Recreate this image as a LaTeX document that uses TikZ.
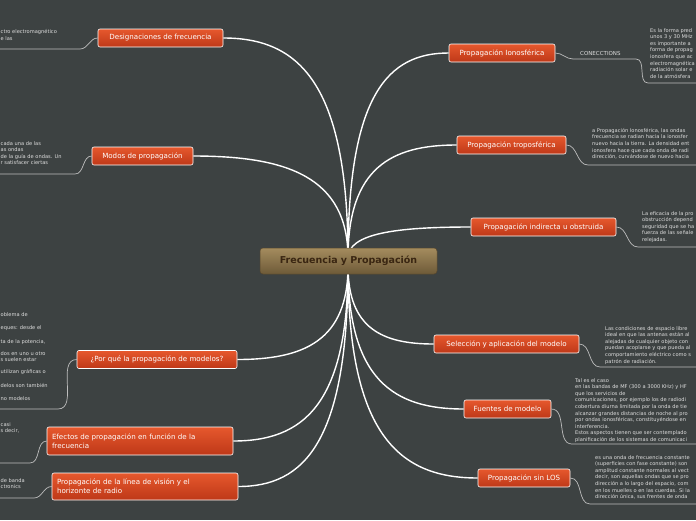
\documentclass[tikz,border=0pt]{standalone}
\usepackage{fontspec}
\setmainfont{DejaVu Sans}
\usetikzlibrary{calc}
\definecolor{bg}{RGB}{61,66,66}
\definecolor{topA}{RGB}{230,88,45}
\definecolor{topB}{RGB}{190,56,24}
\definecolor{cenA}{RGB}{164,140,94}
\definecolor{cenB}{RGB}{110,90,56}
\definecolor{cenT}{RGB}{58,38,18}
\definecolor{notec}{RGB}{222,222,222}
\definecolor{subc}{RGB}{190,190,190}
\newcommand\mcurve[2]{\draw[mainline] (#1) .. controls ($(#1)!0.8!(#1|-#2)$) and ($(#2)!0.6!(#1|-#2)$) .. (#2);}
\begin{document}
\begin{tikzpicture}[x=1pt,y=-1pt,
  topic/.style={draw=white, line width=0.6pt, rounded corners=2pt, top color=topA, bottom color=topB,
    text=white, font=\fontsize{7.1}{8.6}\selectfont, inner xsep=4pt, inner ysep=2pt, minimum height=18pt},
  center/.style={draw=cenB!80!black, line width=0.5pt, rounded corners=3pt, top color=cenA, bottom color=cenB,
    text=cenT, font=\bfseries\fontsize{9.5}{11}\selectfont, minimum width=177pt, minimum height=26pt},
  note/.style={text=notec, font=\fontsize{5.1}{6.6}\selectfont, inner sep=0pt, align=left},
  lnote/.style={text=notec, font=\fontsize{5.1}{6.6}\selectfont, inner sep=0pt, anchor=base west},
  mainline/.style={white, line width=1.4pt},
  subline/.style={subc, line width=0.7pt}]
\useasboundingbox (0,0) rectangle (696,520);
\fill[bg] (0,0) rectangle (696,520);
\clip (0,0) rectangle (696,520);

\coordinate (cu) at (348,258);
\coordinate (cd) at (348,266);

% left topics
\node[topic, minimum width=125pt] (des) at (160.5,38) {Designaciones de frecuencia};
\node[topic, minimum width=101pt] (mod) at (142.5,156) {Modos de propagación};
\node[topic, minimum width=160pt] (por) at (157,359.5) {¿Por qué la propagación de modelos?};
\node[topic, minimum width=186pt, minimum height=28pt, text width=176pt, align=left] (efe) at (140,441) {Efectos de propagación en función de la\\frecuencia};
\node[topic, minimum width=186pt, minimum height=27pt, text width=176pt, align=left] (los) at (145,486.5) {Propagación de la línea de visión y el\\horizonte de radio};

% right topics
\node[topic, minimum width=106pt] (ion) at (502,53) {Propagación Ionosférica};
\node[topic, minimum width=109pt] (tro) at (511.5,145) {Propagación troposférica};
\node[topic, minimum width=145pt] (ind) at (543.5,227) {Propagación indirecta u obstruida};
\node[topic, minimum width=145pt] (sel) at (506.5,344) {Selección y aplicación del modelo};
\node[topic, minimum width=87pt] (fue) at (507.5,409) {Fuentes de modelo};
\node[topic, minimum width=92pt] (sin) at (524,478) {Propagación sin LOS};

% main curves
\mcurve{cu}{des.east}
\mcurve{cu}{mod.east}
\mcurve{cd}{por.east}
\mcurve{cd}{efe.east}
\mcurve{cd}{los.east}
\mcurve{cu}{ion.west}
\mcurve{cu}{tro.west}
\mcurve{cu}{ind.west}
\mcurve{cd}{sel.west}
\mcurve{cd}{fue.west}
\mcurve{cd}{sin.west}

\node[center] (cen) at (348.5,261) {Frecuencia y Propagación};

% left sub lines
\coordinate (desr) at (80,49);
\draw[subline] (des.west) to[out=180,in=0] (desr) -- (0,49);
\coordinate (modr) at (75,174);
\draw[subline] (mod.west) to[out=180,in=0] (modr) -- (0,174);
\coordinate (porr) at (58,409);
\draw[subline] (por.west) to[out=180,in=0] (porr) -- (0,409);
\coordinate (efer) at (30,463);
\draw[subline] (efe.west) to[out=180,in=0] (efer) -- (0,463);
\coordinate (losr) at (34,498);
\draw[subline] (los.west) to[out=180,in=0] (losr) -- (0,498);

% right sub lines
\coordinate (ionr) at (573,59);
\coordinate (ionr2) at (636,59);
\coordinate (ionr3) at (648,83);
\draw[subline] (ion.east) to[out=0,in=180] (ionr) -- (ionr2) to[out=0,in=180] (ionr3) -- (696,83);
\node[text=notec, font=\fontsize{5.5}{6}\selectfont, inner sep=0pt, anchor=base west] (con) at (580,55.5) {CONECCTIONS};
\coordinate (tror) at (588,165);
\draw[subline] (tro.east) to[out=0,in=180] (tror) -- (696,165);
\coordinate (indr) at (638,247);
\draw[subline] (ind.east) to[out=0,in=180] (indr) -- (696,247);
\coordinate (selr) at (600,367);
\draw[subline] (sel.east) to[out=0,in=180] (selr) -- (696,367);
\coordinate (fuer) at (572,444);
\draw[subline] (fue.east) to[out=0,in=180] (fuer) -- (696,444);
\coordinate (sinr) at (590,504);
\draw[subline] (sin.east) to[out=0,in=180] (sinr) -- (696,504);

% right notes (as far as the picture shows them)
\node[note, anchor=north west] (n1) at (650,28) {Es la forma pred\\unos 3 y 30 MHz\\es importante a\\forma de propag\\ionosfera que ac\\electromagnética\\radiación solar e\\de la atmósfera};
\node[note, anchor=north west] (n2) at (592,128) {a Propagación Ionosférica, las ondas\\frecuencia se radian hacia la ionosfer\\nuevo hacia la tierra. La densidad ent\\ionosfera hace que cada onda de radi\\dirección, curvándose de nuevo hacia};
\node[note, anchor=north west] (n3) at (642,211) {La eficacia de la pro\\obstrucción depend\\seguridad que se ha\\fuerza de las señale\\relejadas.};
\node[note, anchor=north west] (n4) at (605,326) {Las condiciones de espacio libre\\ideal en que las antenas están al\\alejadas de cualquier objeto con\\puedan acoplarse y que pueda al\\comportamiento eléctrico como s\\patrón de radiación.};
\node[note, anchor=north west] (n5) at (575,378) {Tal es el caso\\en las bandas de MF (300 a 3000 KHz) y HF\\que los servicios de\\comunicaciones, por ejemplo los de radiodi\\cobertura diurna limitada por la onda de tie\\alcanzar grandes distancias de noche al pro\\por ondas ionosféricas, constituyéndose en\\interferencia.\\Estos aspectos tienen que ser contemplado\\planificación de los sistemas de comunicaci};
\node[note, anchor=north west] (n6) at (595,455) {es una onda de frecuencia constante\\(superficies con fase constante) son\\amplitud constante normales al vect\\decir, son aquellas ondas que se pro\\dirección a lo largo del espacio, com\\en los muelles o en las cuerdas. Si la\\dirección única, sus frentes de onda};

% left notes (as far as the picture shows them)
\node[lnote] (l1) at (0.5,33) {ctro electromagnético};
\node[lnote] (l2) at (0.5,40) {e las};
\node[lnote] (l3) at (0.5,145) {cada una de las};
\node[lnote] (l4) at (0.5,151) {as ondas};
\node[lnote] (l5) at (0.5,158) {de la guía de ondas. Un};
\node[lnote] (l6) at (0.5,164) {r satisfacer ciertas};
\node[lnote] (l7) at (0.5,316) {oblema de};
\node[lnote] (l8) at (0.5,329) {eques: desde el};
\node[lnote] (l9) at (0.5,343) {ta de la potencia,};
\node[lnote] (l10) at (0.5,355) {dos en uno u otro};
\node[lnote] (l11) at (0.5,361) {s suelen estar};
\node[lnote] (l12) at (0.5,373) {utilizan gráficas o};
\node[lnote] (l13) at (0.5,387) {delos son también};
\node[lnote] (l14) at (0.5,400) {no modelos};
\node[lnote] (l15) at (0.5,426) {casi};
\node[lnote] (l16) at (0.5,432) {s decir,};
\node[lnote] (l17) at (0.5,482) {de banda};
\node[lnote] (l18) at (0.5,488) {ctronics};
\end{tikzpicture}
\end{document}
